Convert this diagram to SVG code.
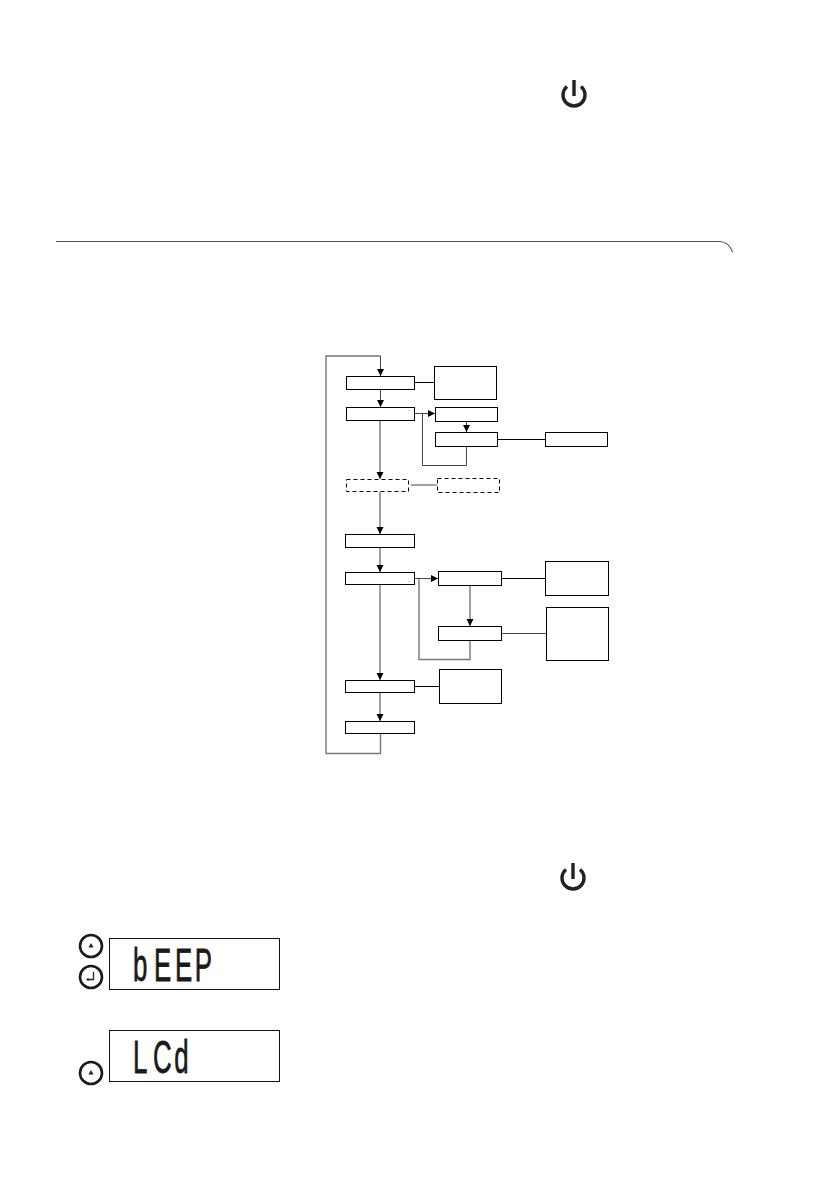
<svg xmlns="http://www.w3.org/2000/svg" width="838" height="1190" viewBox="0 0 838 1190">
<style>
.n{fill:#fff;stroke:#000;stroke-width:1}
.d{fill:#fff;stroke:#000;stroke-width:1;stroke-dasharray:4 3}
.c{fill:none;stroke:#444;stroke-width:1}
.k{fill:none;stroke:#000;stroke-width:1}
.g{fill:none;stroke:#777;stroke-width:1.4}
.lcd{fill:#fff;stroke:#111;stroke-width:1}
.seg{font-family:"Liberation Sans",Arial,sans-serif;font-size:47px;fill:#1a1a1a;stroke:#1a1a1a;stroke-width:.8}
.btn{fill:#fff;stroke:#1a1a1a;stroke-width:2.6}
.pw{fill:none;stroke:#222;stroke-width:3.4}
</style>
<defs>
<marker id="a" markerUnits="userSpaceOnUse" markerWidth="8" markerHeight="8" refX="7" refY="4" orient="auto"><path d="M0 0.500L7 4L0 7.500Z" fill="#000"/></marker>
</defs>
<rect width="838" height="1190" fill="#fff"/>
<g id="power-top"><path class="pw" d="M567 86.500A11 11 0 1 0 581 86.500"/><path class="pw" d="M574 80V96"/></g>
<g id="header-rule"><path d="M56 241.500H720Q729 242 732.500 252" fill="none" stroke="#555" stroke-width="1.200"/></g>
<g id="connectors">
<path class="g" d="M380.500 733.500V753.500H326V356H380.500"/>
<path class="c" d="M380.500 356V376" marker-end="url(#a)"/>
<path class="c" d="M380.500 389.500V407" marker-end="url(#a)"/>
<path class="c" d="M414.500 413.500H435" marker-end="url(#a)"/>
<path class="c" d="M466.500 421V432" marker-end="url(#a)"/>
<path class="c" d="M466.500 446.500V465.500H422.500V413.500"/>
<path class="k" d="M414.500 382.500H434"/>
<path class="k" d="M497.500 439.500H545"/>
<path class="c" d="M380 420V479" marker-end="url(#a)"/>
<path class="c" d="M411 485H437"/>
<path class="g" d="M380 491.500V534" marker-end="url(#a)"/>
<path class="g" d="M380 547.500V572" marker-end="url(#a)"/>
<path class="c" d="M414.500 578.500H438" marker-end="url(#a)"/>
<path class="k" d="M501.500 578.500H545.500"/>
<path class="g" d="M470 585.500V626" marker-end="url(#a)"/>
<path class="c" d="M501.500 633.500H546.500"/>
<path class="g" d="M470 640.500V659.500H419V578.500"/>
<path class="c" d="M380 584.500V680" marker-end="url(#a)"/>
<path class="k" d="M414.500 686.500H439.500"/>
<path class="c" d="M380 692.500V721" marker-end="url(#a)"/>
</g>
<g id="node-1"><rect class="n" x="346.500" y="376.500" width="68" height="13"/></g>
<g id="note-1"><rect class="n" x="434.500" y="366.500" width="62" height="33"/></g>
<g id="node-2"><rect class="n" x="346.500" y="407.500" width="68" height="13"/></g>
<g id="node-3"><rect class="n" x="435.500" y="407.500" width="62" height="14"/></g>
<g id="node-4"><rect class="n" x="435.500" y="432.500" width="62" height="14"/></g>
<g id="note-4"><rect class="n" x="545.500" y="432.500" width="62" height="14"/></g>
<g id="node-5"><rect class="d" x="346.500" y="479.500" width="62" height="12"/></g>
<g id="note-5"><rect class="d" x="437.500" y="478.500" width="62" height="14"/></g>
<g id="node-6"><rect class="n" x="345.500" y="534.500" width="69" height="13"/></g>
<g id="node-7"><rect class="n" x="345.500" y="572.500" width="69" height="12"/></g>
<g id="node-8"><rect class="n" x="438.500" y="571.500" width="63" height="14"/></g>
<g id="note-8"><rect class="n" x="545.500" y="561.500" width="63" height="34"/></g>
<g id="node-9"><rect class="n" x="438.500" y="626.500" width="63" height="14"/></g>
<g id="note-9"><rect class="n" x="546.500" y="607.500" width="62" height="53"/></g>
<g id="node-10"><rect class="n" x="345.500" y="680.500" width="69" height="12"/></g>
<g id="note-10"><rect class="n" x="439.500" y="669.500" width="62" height="34"/></g>
<g id="node-11"><rect class="n" x="345.500" y="721.500" width="69" height="12"/></g>
<g id="power-bottom"><path class="pw" d="M566 869.500A11 11 0 1 0 580 869.500"/><path class="pw" d="M573 863V879"/></g>
<g id="btn-up-1"><circle class="btn" cx="91" cy="946" r="11"/><path d="M91 943L93.500 947.500H88.500Z" fill="#222"/></g>
<g id="btn-enter"><circle class="btn" cx="91" cy="977" r="11"/><path d="M93.500 972V979.500H88" fill="none" stroke="#222" stroke-width="1.300"/><path d="M86 979.500L88.500 977.700V981.300Z" fill="#222"/></g>
<g id="lcd-beep"><rect class="lcd" x="109.500" y="938.500" width="170" height="51"/><text class="seg" transform="scale(.55 1)" x="242 280 318 354" y="981">bEEP</text></g>
<g id="lcd-lcd"><rect class="lcd" x="109.500" y="1030.500" width="170" height="51"/><text class="seg" transform="scale(.55 1)" x="242 278 317" y="1073">LCd</text></g>
<g id="btn-up-2"><circle class="btn" cx="91" cy="1073" r="11"/><path d="M91 1070L93.500 1074.500H88.500Z" fill="#222"/></g>
</svg>
